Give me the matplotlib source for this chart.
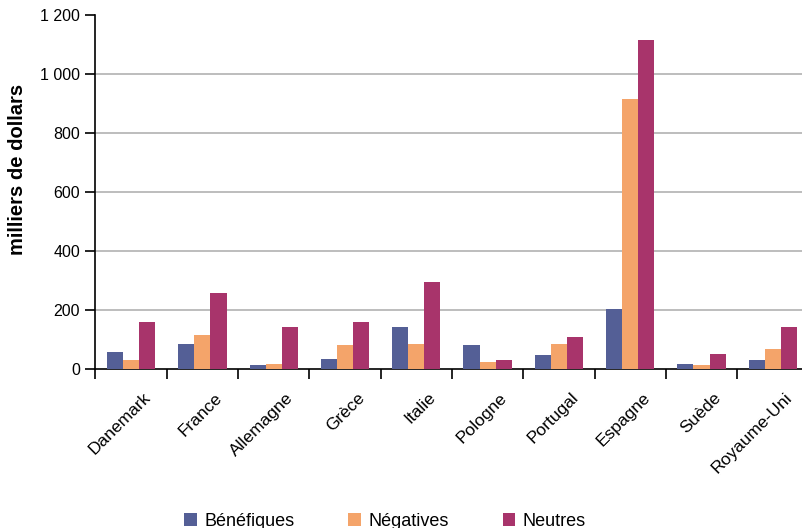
import matplotlib
matplotlib.use("Agg")
import matplotlib.pyplot as plt
import matplotlib.transforms as mtransforms
from matplotlib.patches import Patch
import numpy as np

plt.rcParams["font.family"] = ["Liberation Sans", "DejaVu Sans"]

countries = ["Danemark", "France", "Allemagne", "Grèce", "Italie", "Pologne",
             "Portugal", "Espagne", "Suède", "Royaume-Uni"]
benefiques = [57, 85, 14, 33, 141, 80, 46, 202, 16, 30]
negatives = [30, 115, 17, 80, 85, 23, 85, 914, 12, 67]
neutres = [158, 258, 141, 158, 296, 30, 107, 1114, 50, 141]
series_names = ["Bénéfiques", "Négatives", "Neutres"]
colors = ["#545F96", "#F4A46A", "#A8346B"]
yticks = [0, 200, 400, 600, 800, 1000, 1200]
ytick_labels = ["0", "200", "400", "600", "800", "1 000", "1 200"]

W, H = 802, 528
fig = plt.figure(figsize=(W / 100, H / 100), dpi=100)
left, right, bottom, top = 95.4, 808.5, 369, 15
ax = fig.add_axes([left / W, 1 - bottom / H, (right - left) / W, (bottom - top) / H])

x = np.arange(len(countries))
bw = 0.226
for i, (vals, c) in enumerate(zip([benefiques, negatives, neutres], colors)):
    ax.bar(x + (i - 1) * bw, vals, width=bw, color=c, zorder=3, linewidth=0)

ax.set_xlim(-0.5, len(countries) - 0.5)
ax.set_ylim(0, 1200)
ax.set_yticks(yticks)
ax.set_yticklabels(ytick_labels, fontsize=11.5)
for v in yticks[1:-1]:
    ax.axhline(v, color="#BDBDBD", linewidth=1.4, zorder=1)

ax.set_xticks(x)
ax.set_xticklabels(countries, rotation=45, ha="right", rotation_mode="anchor",
                   fontsize=12.5)
ax.set_xticks(np.arange(len(countries) + 1) - 0.5, minor=True)
ax.tick_params(axis="x", which="major", length=0, pad=15)
ax.tick_params(axis="x", which="minor", length=7, width=1.2, direction="out")
ax.tick_params(axis="y", length=7, width=1.2, direction="out", pad=4)
shift = mtransforms.ScaledTranslation(12 / 100, 0, fig.dpi_scale_trans)
for lab in ax.get_xticklabels():
    lab.set_transform(lab.get_transform() + shift)

for s in ["top", "right"]:
    ax.spines[s].set_visible(False)
ax.spines["left"].set_linewidth(1.2)
ax.spines["bottom"].set_linewidth(1.2)

fig.text(18 / W, 1 - 169 / H, "milliers de dollars", rotation=90, ha="center",
         va="center", fontsize=14.5, fontweight="bold")

handles = [Patch(facecolor=c, edgecolor="none") for c in colors]
fig.legend(handles, series_names, loc="center", ncol=3,
           bbox_to_anchor=(385 / W, 1 - 521 / H), frameon=False, fontsize=13,
           handlelength=0.7, handleheight=0.7, handletextpad=0.4,
           columnspacing=3.0, borderpad=0)

fig.savefig("out.png", dpi=100)
